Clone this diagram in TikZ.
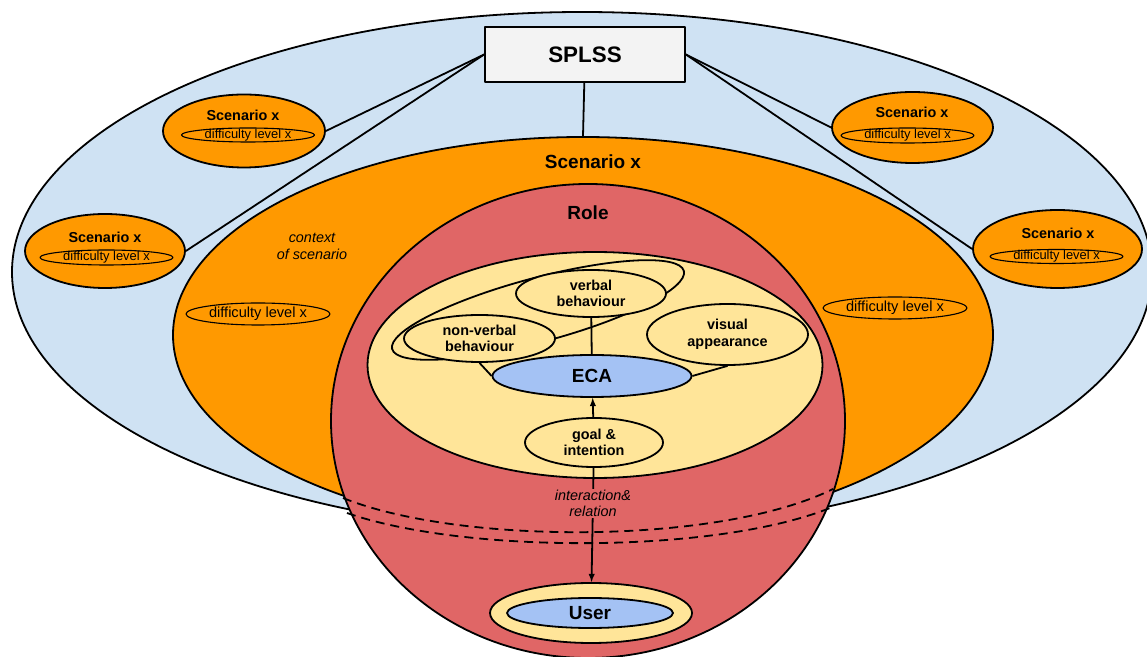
\documentclass[tikz,border=0pt]{standalone}
\usepackage{fontspec}
\setmainfont{Liberation Sans}
\usetikzlibrary{shapes.geometric}
\definecolor{worldblue}{HTML}{CFE2F3}
\definecolor{scenorange}{HTML}{FF9900}
\definecolor{rolered}{HTML}{E06666}
\definecolor{ecayellow}{HTML}{FFE599}
\definecolor{agentblue}{HTML}{A4C2F4}
\definecolor{boxgray}{HTML}{F3F3F3}
\begin{document}
\begin{tikzpicture}[>=latex,line join=bevel,line width=1.8bp,
  zone/.style={ellipse,draw,inner sep=0pt},
  diffring/.style={ellipse,draw,line width=1.1bp,inner xsep=0pt,inner ysep=-2.5bp,font=\fontsize{12.9bp}{14bp}\selectfont},
  bigdiffring/.style={ellipse,draw,line width=1.1bp,inner sep=0pt,minimum width=144bp,minimum height=22bp,font=\fontsize{14.6bp}{16bp}\selectfont},
  zonetitle/.style={inner sep=0pt,font=\fontsize{19bp}{22bp}\selectfont\bfseries},
  smalltitle/.style={inner sep=0pt,font=\fontsize{14.4bp}{16.7bp}\selectfont\bfseries},
  facet/.style={ellipse,draw,fill=ecayellow,inner sep=0pt,align=center,font=\fontsize{14.4bp}{16.7bp}\selectfont\bfseries},
  agent/.style={ellipse,draw,fill=agentblue,inner sep=0pt,font=\fontsize{19bp}{22bp}\selectfont\bfseries},
  italnote/.style={inner sep=1bp,align=center,font=\fontsize{14.4bp}{16.7bp}\selectfont\itshape},
  hiddenedge/.style={dash pattern=on 9bp off 6bp},
  smallscen/.style={zone,fill=scenorange,minimum width=162bp,minimum height=73bp},
]
%%
\useasboundingbox (0bp,0bp) rectangle (1147bp,657bp);
\node (node_world) at (582.0bp,385.0bp) [zone,fill=worldblue,minimum width=1140bp,minimum height=520bp] {};
  \node (node_scenario) at (583.0bp,322.0bp) [zone,fill=scenorange,minimum width=820bp,minimum height=396bp] {};
  \node (node_scenario_title) at (593.0bp,495.0bp) [zonetitle] {Scenario x};
  \node (node_context) at (312.0bp,410.5bp) [italnote] {context\\of scenario};
  \node (node_level_left) at (258.0bp,343.0bp) [bigdiffring] {difficulty level x};
  \node (node_level_right) at (895.0bp,349.0bp) [bigdiffring] {difficulty level x};
  \node (node_role) at (588.0bp,236.0bp) [zone,fill=rolered,minimum width=514bp,minimum height=474bp] {};
  \node (node_role_title) at (588.0bp,444.0bp) [zonetitle] {Role};
  \node (node_agent) at (595.0bp,292.0bp) [zone,fill=ecayellow,minimum width=455bp,minimum height=226bp] {};
  \node (node_behaviour) at (538.0bp,347.0bp) [zone,rotate=15,minimum width=302bp,minimum height=64bp] {};
  \node (node_verbal) at (591.0bp,363.5bp) [facet,minimum width=150bp,minimum height=47bp] {verbal\\behaviour};
  \node (node_nonverbal) at (479.5bp,318.5bp) [facet,minimum width=151bp,minimum height=47bp] {non-verbal\\behaviour};
  \node (node_visual) at (727.5bp,322.5bp) [facet,minimum width=161bp,minimum height=61bp] {visual\\appearance};
  \node (node_eca) at (592.0bp,281.0bp) [agent,minimum width=199bp,minimum height=42bp] {ECA};
  \node (node_goal) at (594.0bp,214.5bp) [facet,minimum width=138bp,minimum height=49bp] {goal \&\\intention};
  \node (node_user_ring) at (591.0bp,44.0bp) [zone,fill=ecayellow,minimum width=202bp,minimum height=60bp] {};
  \node (node_user) at (590.0bp,44.0bp) [agent,minimum width=166bp,minimum height=30bp] {User};
  \node (node_scenario_tl) at (244.0bp,526.0bp) [smallscen] {};
  \node (node_scenario_tl_title) at (243.0bp,542.0bp) [smalltitle] {Scenario x};
  \node (node_level_tl) at (248.0bp,522.0bp) [diffring,minimum width=133bp,minimum height=14bp] {difficulty level x};
  \node (node_scenario_l) at (105.0bp,406.0bp) [smallscen,minimum width=160bp,minimum height=74bp] {};
  \node (node_scenario_l_title) at (105.0bp,420.0bp) [smalltitle] {Scenario x};
  \node (node_level_l) at (106.5bp,399.5bp) [diffring,minimum width=133bp,minimum height=15bp] {difficulty level x};
  \node (node_scenario_tr) at (912.5bp,529.5bp) [smallscen,minimum width=161bp,minimum height=71bp] {};
  \node (node_scenario_tr_title) at (912.0bp,545.0bp) [smalltitle] {Scenario x};
  \node (node_level_tr) at (907.5bp,521.5bp) [diffring,minimum width=133bp,minimum height=15bp] {difficulty level x};
  \node (node_scenario_r) at (1057.5bp,408.0bp) [smallscen,minimum width=169bp,minimum height=78bp] {};
  \node (node_scenario_r_title) at (1058.0bp,424.0bp) [smalltitle] {Scenario x};
  \node (node_level_r) at (1056.5bp,400.5bp) [diffring,minimum width=133bp,minimum height=14bp] {difficulty level x};
  \node (node_splss) at (585.0bp,602.5bp) [draw,fill=boxgray,inner sep=0pt,minimum width=200bp,minimum height=55bp,font=\fontsize{22.4bp}{26bp}\selectfont\bfseries] {SPLSS};
  \draw [black] (node_splss.west) -- (node_scenario_tl.east);
  \draw [black] (node_splss.west) -- (node_scenario_l.east);
  \draw [black] (node_splss.east) -- (node_scenario_tr.west);
  \draw [black] (node_splss.east) -- (node_scenario_r.west);
  \draw [black] (node_splss) -- (node_scenario.north);
  \draw [black] (node_verbal) -- (node_eca);
  \draw [black] (node_nonverbal.south) -- (node_eca.west);
  \draw [black] (node_visual.south) -- (node_eca.east);
  \draw [black,->] (node_goal) -- (node_eca);
  \draw [black,hiddenedge] (343.0bp,159.0bp) .. controls (460.0bp,112.0bp) and (720.0bp,112.0bp) .. (833.0bp,168.0bp);
  \draw [black,hiddenedge] (347.0bp,144.0bp) .. controls (465.0bp,103.0bp) and (715.0bp,103.0bp) .. (830.0bp,149.0bp);
  \draw [black,->] (node_goal) -- node[pos=0.31,fill=rolered,italnote] {interaction\&\\relation} (node_user_ring);
%
\end{tikzpicture}
\end{document}
